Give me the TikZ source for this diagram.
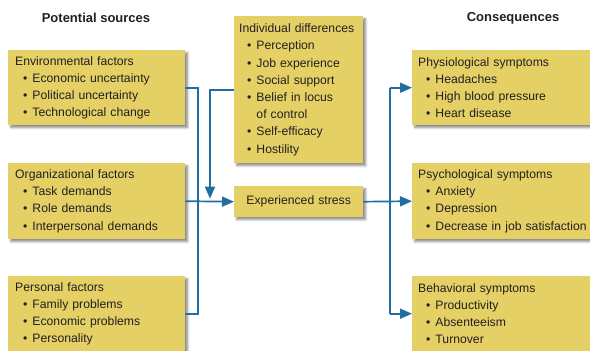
\documentclass[tikz,border=0pt]{standalone}
\usepackage{fontspec}
\setmainfont{Liberation Sans}
\usetikzlibrary{arrows.meta,shadows.blur}

\definecolor{boxfill}{RGB}{229,208,102}
\definecolor{linkblue}{RGB}{33,111,160}
\definecolor{inktext}{RGB}{35,31,32}

% bullet lines inside the boxes
\newcommand{\itm}[1]{\hspace*{8pt}\textbullet\hspace{5pt}#1}
\newcommand{\itmcont}[1]{\hspace*{8pt}\phantom{\textbullet}\hspace{5pt}#1}

\begin{document}
\begin{tikzpicture}[
        x=1pt, y=-1pt,
        >={Triangle[length=12pt,width=10pt]},
        factor/.style={rectangle, fill=boxfill, anchor=north west, inner xsep=7pt, inner ysep=4pt,
            align=left, text=inktext, font=\fontsize{12.2}{17.2}\selectfont,
            blur shadow={shadow xshift=2.5pt, shadow yshift=-2.5pt, shadow blur steps=6, shadow opacity=45}},
        header/.style={font=\fontsize{13}{15}\selectfont\bfseries, text=inktext},
        link/.style={draw=linkblue, line width=1.7pt}
    ]
    \clip (0,0) rectangle (590,351);

        % Titulos
        \node[header] (srchead) at (96,18) {Potential sources};
        \node[header] (conhead) at (513,18) {Consequences};

        % Fuentes
        \node[factor, text width=163pt, minimum height=75pt] (env) at (8,50)
            {Environmental factors\\ \itm{Economic uncertainty}\\ \itm{Political uncertainty}\\ \itm{Technological change}};
        \node[factor, text width=163pt, minimum height=76pt] (org) at (8,163)
            {Organizational factors\\ \itm{Task demands}\\ \itm{Role demands}\\ \itm{Interpersonal demands}};
        \node[factor, text width=163pt, minimum height=75pt] (personal) at (8,276)
            {Personal factors\\ \itm{Family problems}\\ \itm{Economic problems}\\ \itm{Personality}};

        % Centro
        \node[factor, inner xsep=5pt, text width=119pt, minimum height=147pt] (indiv) at (234,16)
            {Individual differences\\ \itm{Perception}\\ \itm{Job experience}\\ \itm{Social support}\\
             \itm{Belief in locus}\\ \itmcont{of control}\\ \itm{Self-efficacy}\\ \itm{Hostility}};
        \node[factor, inner xsep=5pt, text width=119pt, minimum height=31pt, align=center] (stress) at (234,186)
            {Experienced stress};

        % Consecuencias
        \node[factor, inner xsep=6pt, text width=173pt, minimum height=75pt] (physio) at (412,50)
            {Physiological symptoms\\ \itm{Headaches}\\ \itm{High blood pressure}\\ \itm{Heart disease}};
        \node[factor, inner xsep=6pt, text width=173pt, minimum height=76pt] (psych) at (412,163)
            {Psychological symptoms\\ \itm{Anxiety}\\ \itm{Depression}\\ \itm{Decrease in job satisfaction}};
        \node[factor, inner xsep=6pt, text width=173pt, minimum height=75pt] (behav) at (412,276)
            {Behavioral symptoms\\ \itm{Productivity}\\ \itm{Absenteeism}\\ \itm{Turnover}};

        % Uniones
        \coordinate (jl) at (198,0);
        \coordinate (jd) at (210,0);
        \coordinate (jr) at (390,0);

        \draw[link] (env.east) -| (jl |- personal.east) -- (personal.east);
        \draw[link,->] (org.east) -- (stress.west);
        \draw[link,->] (indiv.west) -| ([yshift=3pt]jd |- stress.west);

        \draw[link] (jr |- physio.west) -- (jr |- behav.west);
        \draw[link,->] (stress.east) -- (psych.west);
        \draw[link,->] (jr |- physio.west) -- (physio.west);
        \draw[link,->] (jr |- behav.west) -- (behav.west);

    \end{tikzpicture}
\end{document}
